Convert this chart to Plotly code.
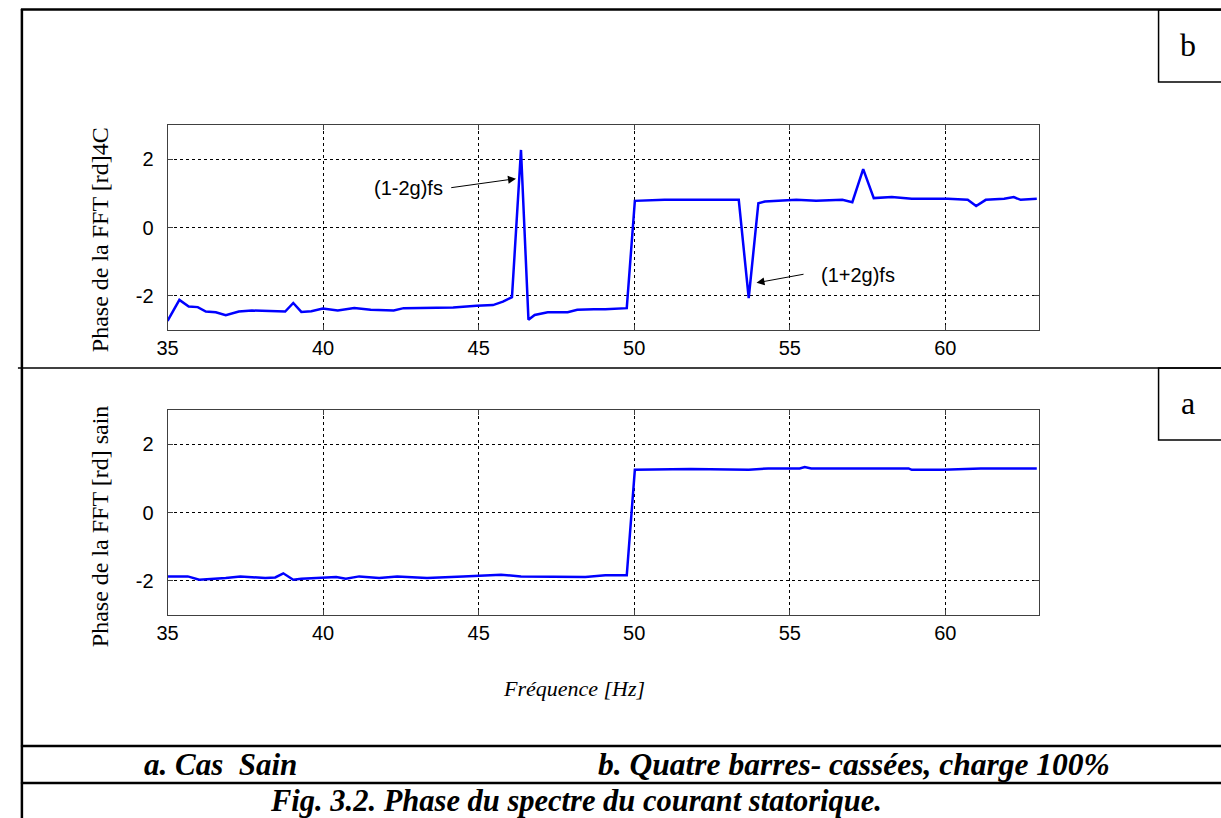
import plotly.graph_objects as go

# ---- data ----
f_4c = [35.0, 35.38, 35.68, 35.97, 36.23, 36.55, 36.87, 37.29, 37.71, 38.35, 38.78, 39.04, 39.3,
        39.62, 39.99, 40.47, 41.0, 41.53, 42.27, 42.59, 43.65, 44.18, 44.93, 45.46, 45.78, 46.07,
        46.36, 46.6, 46.8, 47.22, 47.86, 48.17, 48.7, 49.07, 49.76, 50.02, 50.97, 53.36, 53.68,
        53.99, 54.2, 55.21, 55.85, 56.69, 57.01, 57.36, 57.7, 58.28, 58.92, 60.08, 60.72, 60.99,
        61.3, 61.89, 62.2, 62.42, 62.94]
phi_4c = [-2.73, -2.12, -2.31, -2.33, -2.46, -2.48, -2.57, -2.46, -2.43, -2.46, -2.46, -2.21, -2.47,
          -2.45, -2.37, -2.43, -2.36, -2.41, -2.43, -2.36, -2.36, -2.34, -2.29, -2.27, -2.17, -2.04,
          2.27, -2.70, -2.56, -2.48, -2.48, -2.41, -2.39, -2.39, -2.36, 0.78, 0.81, 0.81, -2.07,
          0.71, 0.76, 0.81, 0.78, 0.81, 0.74, 1.71, 0.86, 0.89, 0.84, 0.84, 0.81, 0.63,
          0.81, 0.84, 0.89, 0.81, 0.84]

f_sain = [35.0, 35.65, 36.02, 36.39, 36.87, 37.34, 38.14, 38.46, 38.72, 39.04, 39.3, 40.42, 40.73,
          41.16, 41.8, 42.38, 43.34, 44.5, 45.72, 46.36, 48.43, 49.07, 49.76, 50.02, 51.82, 53.68,
          54.31, 55.32, 55.48, 55.69, 58.82, 58.92, 59.93, 61.14, 62.94]
phi_sain = [-1.87, -1.87, -1.97, -1.95, -1.92, -1.87, -1.92, -1.90, -1.78, -1.97, -1.94, -1.89, -1.94,
            -1.87, -1.92, -1.87, -1.92, -1.87, -1.82, -1.87, -1.89, -1.84, -1.84, 1.25, 1.27, 1.25,
            1.29, 1.29, 1.33, 1.29, 1.29, 1.25, 1.25, 1.29, 1.29]

x_ticks = [35, 40, 45, 50, 55, 60]
y_ticks = [-2, 0, 2]
y_tick_text = ["-2", "0", "2"]

W, H = 1221, 818
def PX(x):
    return x / W
def PY(y):
    return 1 - y / H

SERIF = "Liberation Serif, Times New Roman, serif"
SANS = "Liberation Sans, Arial, sans-serif"

fig = go.Figure()
fig.add_trace(go.Scatter(x=f_4c, y=phi_4c, xaxis="x", yaxis="y", mode="lines",
                         line=dict(color="#0000FF", width=2.5), showlegend=False))
fig.add_trace(go.Scatter(x=f_sain, y=phi_sain, xaxis="x2", yaxis="y2", mode="lines",
                         line=dict(color="#0000FF", width=2.5), showlegend=False))

ax = dict(showgrid=True, gridcolor="black", griddash="3px,3px", gridwidth=1,
          showline=True, linecolor="#404040", linewidth=1, mirror="ticks",
          ticks="inside", ticklen=5, tickcolor="#404040", zeroline=False,
          tickfont=dict(family=SANS, size=20, color="black"))
xax = dict(ax, range=[35, 63], tickvals=x_ticks, domain=[PX(158), PX(1037)])
yax = dict(ax, range=[-3, 3], tickvals=y_ticks, ticktext=y_tick_text, ticklabelstandoff=9)

fig.update_layout(
    width=W, height=H, autosize=False,
    margin=dict(l=0, r=0, t=0, b=0),
    paper_bgcolor="white", plot_bgcolor="white",
    xaxis=dict(xax, anchor="y"),
    yaxis=dict(yax, domain=[PY(330), PY(125)], anchor="x"),
    xaxis2=dict(xax, anchor="y2"),
    yaxis2=dict(yax, domain=[PY(615), PY(410)], anchor="x2"),
)

shapes = []
def hline(y, x0, x1, w):
    shapes.append(dict(type="line", xref="paper", yref="paper", x0=PX(x0), x1=PX(x1),
                       y0=PY(y), y1=PY(y), line=dict(color="black", width=w)))
def vline(x, y0, y1, w):
    shapes.append(dict(type="line", xref="paper", yref="paper", x0=PX(x), x1=PX(x),
                       y0=PY(y0), y1=PY(y1), line=dict(color="black", width=w)))

hline(9.5, 10, 1221, 2.5)
vline(11, 9, 818, 2.5)
hline(368, 7, 1221, 1.5)
hline(746, 10, 1221, 2.5)
hline(783, 10, 1221, 2.5)
# label boxes
shapes.append(dict(type="rect", xref="paper", yref="paper", x0=PX(1158), x1=PX(1225),
                   y0=PY(82), y1=PY(10), line=dict(color="black", width=1.5)))
shapes.append(dict(type="rect", xref="paper", yref="paper", x0=PX(1158), x1=PX(1225),
                   y0=PY(440), y1=PY(368), line=dict(color="black", width=1.5)))

ann = []
def text(x, y, s, size, family=SERIF, angle=0):
    ann.append(dict(xref="paper", yref="paper", x=PX(x), y=PY(y), text=s, showarrow=False,
                    xanchor="center", yanchor="middle", textangle=angle,
                    font=dict(family=family, size=size, color="black")))

text(90, 240, "Phase de la FFT [rd]4C", 24, angle=-90)
text(90, 526, "Phase de la FFT [rd] sain", 24, angle=-90)
text(568, 688, "<i>Fréquence [Hz]</i>", 22)
text(211, 764, "<b><i>a. Cas  Sain</i></b>", 31)
text(851, 764, "<b><i>b. Quatre barres- cassées, charge 100%</i></b>", 31.5)
text(570, 801, "<b><i>Fig. 3.2. Phase du spectre du courant statorique.</i></b>", 30.5)
text(1188, 45, "b", 32)
text(1188, 403, "a", 32)

# arrows + labels in the top plot
ann.append(dict(xref="x", yref="y", x=46.2, y=1.43, ax=44.07, ay=1.16, axref="x", ayref="y",
                text="", showarrow=True, arrowhead=2, arrowsize=1.6, arrowwidth=1, arrowcolor="black"))
ann.append(dict(xref="x", yref="y", x=42.75, y=1.16, text="(1-2g)fs", showarrow=False,
                font=dict(family=SANS, size=20, color="black")))
ann.append(dict(xref="x", yref="y", x=53.93, y=-1.62, ax=55.49, ay=-1.36, axref="x", ayref="y",
                text="", showarrow=True, arrowhead=2, arrowsize=1.6, arrowwidth=1, arrowcolor="black"))
ann.append(dict(xref="x", yref="y", x=57.2, y=-1.39, text="(1+2g)fs", showarrow=False,
                font=dict(family=SANS, size=20, color="black")))

fig.update_layout(shapes=shapes, annotations=ann)
fig.write_html("out.html")
